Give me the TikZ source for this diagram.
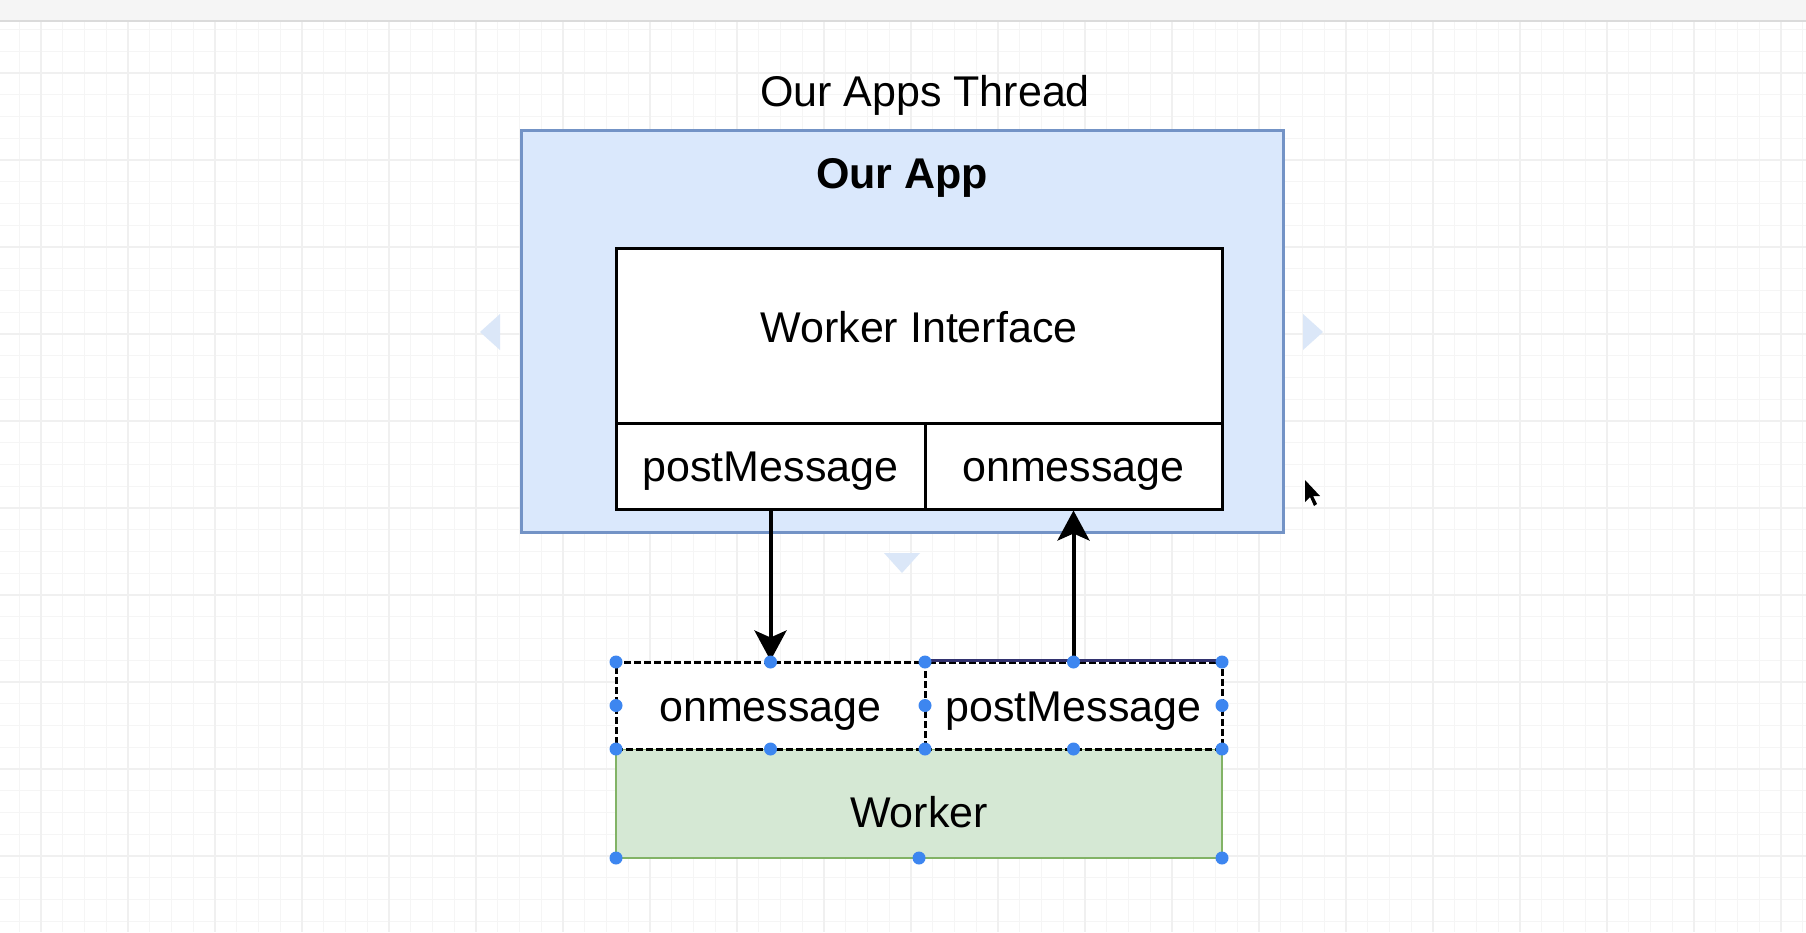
\documentclass[tikz,border=0pt]{standalone}
\usepackage{fontspec}
\setmainfont{Liberation Sans}
\usetikzlibrary{arrows.meta}
\definecolor{appfill}{HTML}{DAE8FC}
\definecolor{appline}{HTML}{7393C6}
\definecolor{workfill}{HTML}{D5E8D4}
\definecolor{workline}{HTML}{82B366}
\definecolor{handle}{HTML}{3D86F0}
\definecolor{hover}{HTML}{DBE7F8}
\tikzset{
  txt/.style={font=\fontsize{43}{50}\selectfont},
  cell/.style={draw=black, line width=3pt, fill=white, inner sep=0pt, txt, text height=31pt, text depth=0pt},
  dotcell/.style={cell, line width=3pt, dash pattern=on 7pt off 3pt},
  flow/.style={line width=4pt, -{Stealth[length=30pt, width=32pt, inset=7pt]}},
  hdl/.style={fill=handle, draw=none}
}
\begin{document}
\begin{tikzpicture}[x=1pt, y=-1pt]
				\useasboundingbox (0,0) rectangle (1806,932);
				\fill[white] (0,0) rectangle (1806,932);
				
				% grid
				\foreach \i in {0,...,83} {
					\draw[black!4, line width=1pt] (\i*21.75-2.5, 22) -- (\i*21.75-2.5, 932);
				}
				\foreach \i in {0,...,42} {
					\draw[black!4, line width=1pt] (0, \i*21.75+7.75) -- (1806, \i*21.75+7.75);
				}
				\foreach \i in {0,...,20} {
					\draw[black!6, line width=1.6pt] (\i*87+41, 22) -- (\i*87+41, 932);
				}
				\foreach \i in {0,...,10} {
					\draw[black!6, line width=1.6pt] (0, \i*87+73) -- (1806, \i*87+73);
				}
				\fill[black!4] (0,0) rectangle (1806,21);
				\draw[black!14, line width=1.5pt] (0,21) -- (1806,21);
				
				% our app
				\node[txt] (thread) at (925,95.5) {Our Apps Thread};
				\node[draw=appline, fill=appfill, line width=3pt, minimum width=762pt, minimum height=402pt, inner sep=0pt] (app) at (902,331) {};
				\node[txt, font=\fontsize{43}{50}\selectfont\bfseries, below=26pt] (apptitle) at (app.north) {Our App};
				\node[cell, minimum width=606pt, minimum height=175pt, text depth=18pt] (iface) at (919,335.5) {Worker Interface};
				\node[cell, minimum width=309pt, minimum height=86pt] (apppost) at (770.5,466) {postMessage};
				\node[cell, minimum width=297pt, minimum height=86pt] (appon) at (1073.5,466) {onmessage};
				
				% worker
				\node[draw=workline, fill=workfill, line width=1.5pt, minimum width=606pt, minimum height=109pt, inner sep=0pt, txt, text height=48pt, text depth=0pt] (worker) at (919,803.5) {Worker};
				\node[dotcell, minimum width=309pt, minimum height=87pt] (workon) at (770.5,705.5) {onmessage};
				\node[dotcell, minimum width=297pt, minimum height=87pt] (workpost) at (1073.5,705.5) {postMessage};
				\draw[black!70!blue!80, line width=3pt] (workpost.north west) -- (workpost.north east);
				
				\draw[flow] (apppost.south) -- (workon.north);
				\draw[flow] (workpost.north) -- (appon.south);
				
				% handles
				\foreach \x in {616,770.5,925,1073.5,1222} {
					\fill[hdl] (\x,662) circle (6.5pt);
					\fill[hdl] (\x,749) circle (6.5pt);
				}
				\foreach \x in {616,925,1222} {
					\fill[hdl] (\x,705.5) circle (6.5pt);
				}
				\foreach \x in {616,919,1222} {
					\fill[hdl] (\x,858) circle (6.5pt);
				}
				
				% hover arrows
				\fill[hover] (480,332) -- (500,314) -- (500,350) -- cycle;
				\fill[hover] (1323,332) -- (1303,314) -- (1303,350) -- cycle;
				\fill[hover] (884,553) -- (920,553) -- (902,573) -- cycle;
				
				% cursor
				\fill[black] (1305,480) -- (1305,502) -- (1310,497) -- (1314,506) -- (1317,504) -- (1313,496) -- (1320,496) -- cycle;
			\end{tikzpicture}
\end{document}
